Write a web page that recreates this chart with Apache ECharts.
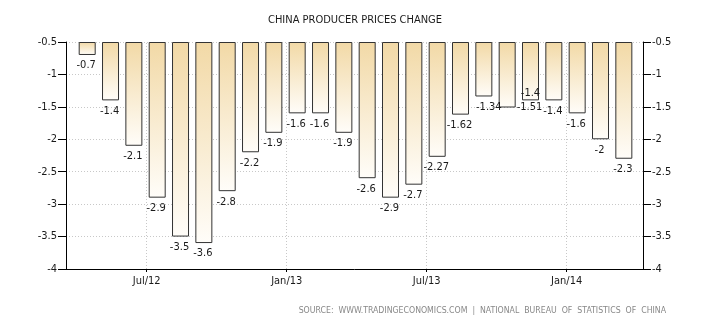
<!DOCTYPE html>
<html>
<head>
<meta charset="utf-8">
<script src="https://cdn.jsdelivr.net/npm/echarts@6/dist/echarts.min.js"></script>
<style>
html,body{margin:0;padding:0;background:#fff;}
#c{width:710px;height:325px;}
</style>
</head>
<body>
<div id="c"></div>
<script>
// ---- data ----
var months = ['2012-04','2012-05','2012-06','2012-07','2012-08','2012-09','2012-10','2012-11','2012-12',
  '2013-01','2013-02','2013-03','2013-04','2013-05','2013-06','2013-07','2013-08','2013-09','2013-10','2013-11','2013-12',
  '2014-01','2014-02','2014-03'];
var values = [-0.7,-1.4,-2.1,-2.9,-3.5,-3.6,-2.8,-2.2,-1.9,-1.6,-1.6,-1.9,-2.6,-2.9,-2.7,-2.27,-1.62,-1.34,-1.51,-1.4,-1.4,-1.6,-2,-2.3];
var xTickMonths = ['2012-07','2013-01','2013-07','2014-01'];
var xTickLabels = ['Jul/12','Jan/13','Jul/13','Jan/14'];
var yTicks = [-0.5,-1,-1.5,-2,-2.5,-3,-3.5,-4];
var title = 'CHINA PRODUCER PRICES CHANGE';
var source = 'SOURCE:  WWW.TRADINGECONOMICS.COM  |  NATIONAL  BUREAU  OF  STATISTICS  OF  CHINA';

// month index: months since Jan 2012
function mIdx(s){ var p = s.split('-'); return (+p[0]-2012)*12 + (+p[1]-1); }
var yMax = yTicks[0], yMin = yTicks[yTicks.length-1];

var FONT = 'DejaVu Sans Condensed, DejaVu Sans, sans-serif';

// time scale of the main grid (months since Jan 2012)
var X_MIN = 2.54, X_MAX = 27.27;
var GRID_L = 66, GRID_R = 67, W = 710;
var pxPerMonth = (W - GRID_L - GRID_R) / (X_MAX - X_MIN);
// bar grid covers exactly the months of the data (one category per month)
var firstM = mIdx(months[0]), lastM = mIdx(months[months.length-1]) + 1;
var barGridLeft = GRID_L + (firstM - X_MIN) * pxPerMonth - 1.2;
var barGridRight = GRID_R + (X_MAX - lastM) * pxPerMonth + 1.2;

function labelFor(i){
  var v = values[i];
  var base = {show:true, formatter: String(v), color:'#1a1a1a', fontSize:11, fontFamily:FONT};
  if (months[i]==='2013-10') return Object.assign(base,{position:['100%','100%'], align:'left', verticalAlign:'middle', offset:[1,0]});
  if (months[i]==='2013-11') return Object.assign(base,{position:'insideBottom', distance:2});
  if (months[i]==='2013-09') return Object.assign(base,{position:'bottom', distance:5, offset:[5,0]});
  return Object.assign(base,{position:'bottom', distance:5, offset:[-1,0]});
}

var baseData = months.map(function(){ return yMax; });
var barData = months.map(function(m,i){
  return {value: values[i]-yMax, label: labelFor(i)};
});

var tickVals = xTickMonths.map(mIdx);

var chart = echarts.init(document.getElementById('c'), null, {renderer:'canvas'});
chart.setOption({
  animation:false,
  backgroundColor:'#fff',
  title:{text:title, left:'center', top:10, textStyle:{fontSize:11, fontWeight:'normal', color:'#1a1a1a', fontFamily:FONT}},
  graphic:[{type:'text', right:44, top:306, style:{text:source, fill:'#888', fontSize:8.7, fontFamily:FONT}}],
  grid:[
    {left:GRID_L, right:GRID_R, top:42, bottom:56},
    {left:barGridLeft, right:barGridRight, top:42, bottom:56}
  ],
  xAxis:[{
    type:'value', gridIndex:0, min:X_MIN, max:X_MAX,
    axisLine:{show:true, onZero:false, lineStyle:{color:'#000', width:1}},
    axisTick:{show:true, length:3, customValues:tickVals, lineStyle:{color:'#000'}},
    axisLabel:{customValues:tickVals, margin:7, color:'#1a1a1a', fontSize:11, fontFamily:FONT,
      formatter:function(v){ var k = tickVals.indexOf(v); return k>=0 ? xTickLabels[k] : ''; }},
    splitLine:{show:false}
  },{
    type:'category', gridIndex:1, data:months, boundaryGap:true, show:false
  }],
  yAxis:[{
    type:'value', gridIndex:0, min:yMin, max:yMax, interval:0.5, position:'left',
    axisLine:{show:true, onZero:false, lineStyle:{color:'#000'}},
    axisTick:{show:true, length:8, lineStyle:{color:'#000'}},
    axisLabel:{margin:9, color:'#1a1a1a', fontSize:11, fontFamily:FONT, formatter:function(v){return String(+v.toFixed(2));}},
    splitLine:{show:true, lineStyle:{color:'#c8c8c8', type:[1,2]}}
  },{
    type:'value', gridIndex:0, min:yMin, max:yMax, interval:0.5, position:'right',
    axisLine:{show:true, onZero:false, lineStyle:{color:'#000'}},
    axisTick:{show:true, length:8, lineStyle:{color:'#000'}},
    axisLabel:{margin:9, color:'#1a1a1a', fontSize:11, fontFamily:FONT, formatter:function(v){return String(+v.toFixed(2));}},
    splitLine:{show:false}
  },{
    type:'value', gridIndex:1, min:yMin, max:yMax, interval:0.5, show:false
  }],
  series:[{
    type:'scatter', xAxisIndex:0, yAxisIndex:0, data:[], silent:true,
    markLine:{silent:true, symbol:'none', label:{show:false},
      lineStyle:{color:'#c8c8c8', type:[1,2], width:1},
      data: tickVals.map(function(t){ return {xAxis:t}; })}
  },{
    type:'bar', xAxisIndex:1, yAxisIndex:2, stack:'s', data:baseData, barWidth:17, silent:true,
    itemStyle:{color:'rgba(0,0,0,0)', borderWidth:0}
  },{
    type:'bar', xAxisIndex:1, yAxisIndex:2, stack:'s', data:barData, barWidth:17,
    itemStyle:{
      color:new echarts.graphic.LinearGradient(0,0,0,1,[{offset:0,color:'#f2d9a6'},{offset:1,color:'#fffdf9'}]),
      borderColor:'#333', borderWidth:1
    }
  }]
});
</script>
</body>
</html>
